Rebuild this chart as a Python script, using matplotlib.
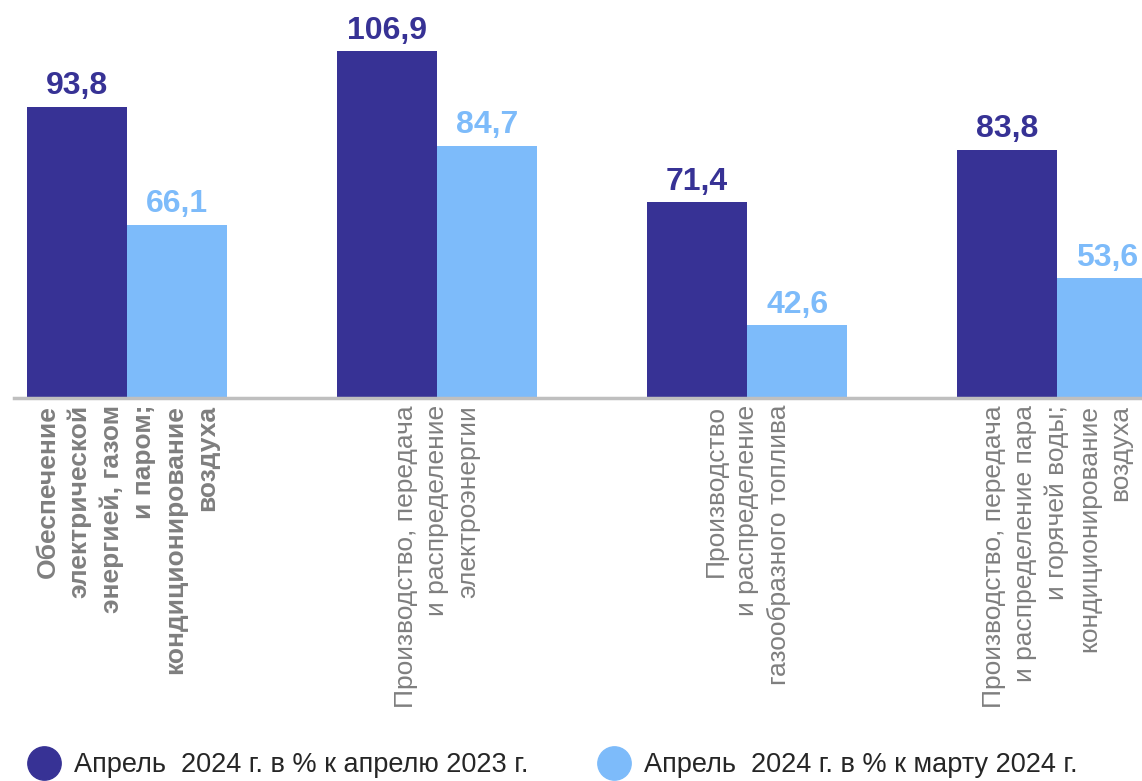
import matplotlib.pyplot as plt
from matplotlib.lines import Line2D
import numpy as np

plt.rcParams['font.family'] = ['Liberation Sans', 'DejaVu Sans']

# data
categories = [
    "Обеспечение\nэлектрической\nэнергией, газом\nи паром;\nкондиционирование\nвоздуха",
    "Производство, передача\nи распределение\nэлектроэнергии",
    "Производство\nи распределение\nгазообразного топлива",
    "Производство, передача\nи распределение пара\nи горячей воды;\nкондиционирование\nвоздуха",
]
apr_vs_apr = [93.8, 106.9, 71.4, 83.8]
apr_vs_mar = [66.1, 84.7, 42.6, 53.6]
series_names = ["Апрель  2024 г. в % к апрелю 2023 г.",
                "Апрель  2024 г. в % к марту 2024 г."]

dark = '#373295'
light = '#7DBBFA'

fig = plt.figure(figsize=(11.42, 7.81), dpi=100)
ax = fig.add_axes([14 / 1142, 383 / 781, 1128 / 1142, 398 / 781])

x = np.arange(len(categories))
w = 100 / 310
b1 = ax.bar(x - w / 2, apr_vs_apr, w, color=dark, bottom=0)
b2 = ax.bar(x + w / 2, apr_vs_mar, w, color=light, bottom=0)

for bars, vals, c in [(b1, apr_vs_apr, dark), (b2, apr_vs_mar, light)]:
    for r, v in zip(bars, vals):
        ax.annotate(f"{v:.1f}".replace('.', ','),
                    (r.get_x() + r.get_width() / 2, v),
                    xytext=(0, 4), textcoords='offset points',
                    ha='center', va='bottom', fontsize=23,
                    fontweight='bold', color=c, annotation_clip=False)

ax.set_ylim(25.5, 118.9)
ax.set_xlim(-0.365, 3.274)

for s in ['top', 'right', 'left']:
    ax.spines[s].set_visible(False)
ax.spines['bottom'].set_color('#BFBFBF')
ax.spines['bottom'].set_linewidth(2.5)
ax.set_yticks([])
ax.set_xticks(x)
ax.set_xticklabels(categories, rotation=90, ha='center', va='top',
                   multialignment='right', fontsize=19, color='#7F7F7F',
                   linespacing=1.4)
ax.get_xticklabels()[0].set_fontweight('bold')
ax.tick_params(axis='x', length=0, pad=5)

# legend with round markers
handles = [Line2D([], [], marker='o', linestyle='', markersize=24,
                  markerfacecolor=c, markeredgecolor=c) for c in (dark, light)]
fig.legend(handles, series_names, loc='center left',
           bbox_to_anchor=(0, 16 / 781), ncol=2, frameon=False,
           fontsize=19.5, columnspacing=2.4, handletextpad=0.37,
           handlelength=1.48, labelcolor='#262626')

fig.savefig('out.png', dpi=100)
